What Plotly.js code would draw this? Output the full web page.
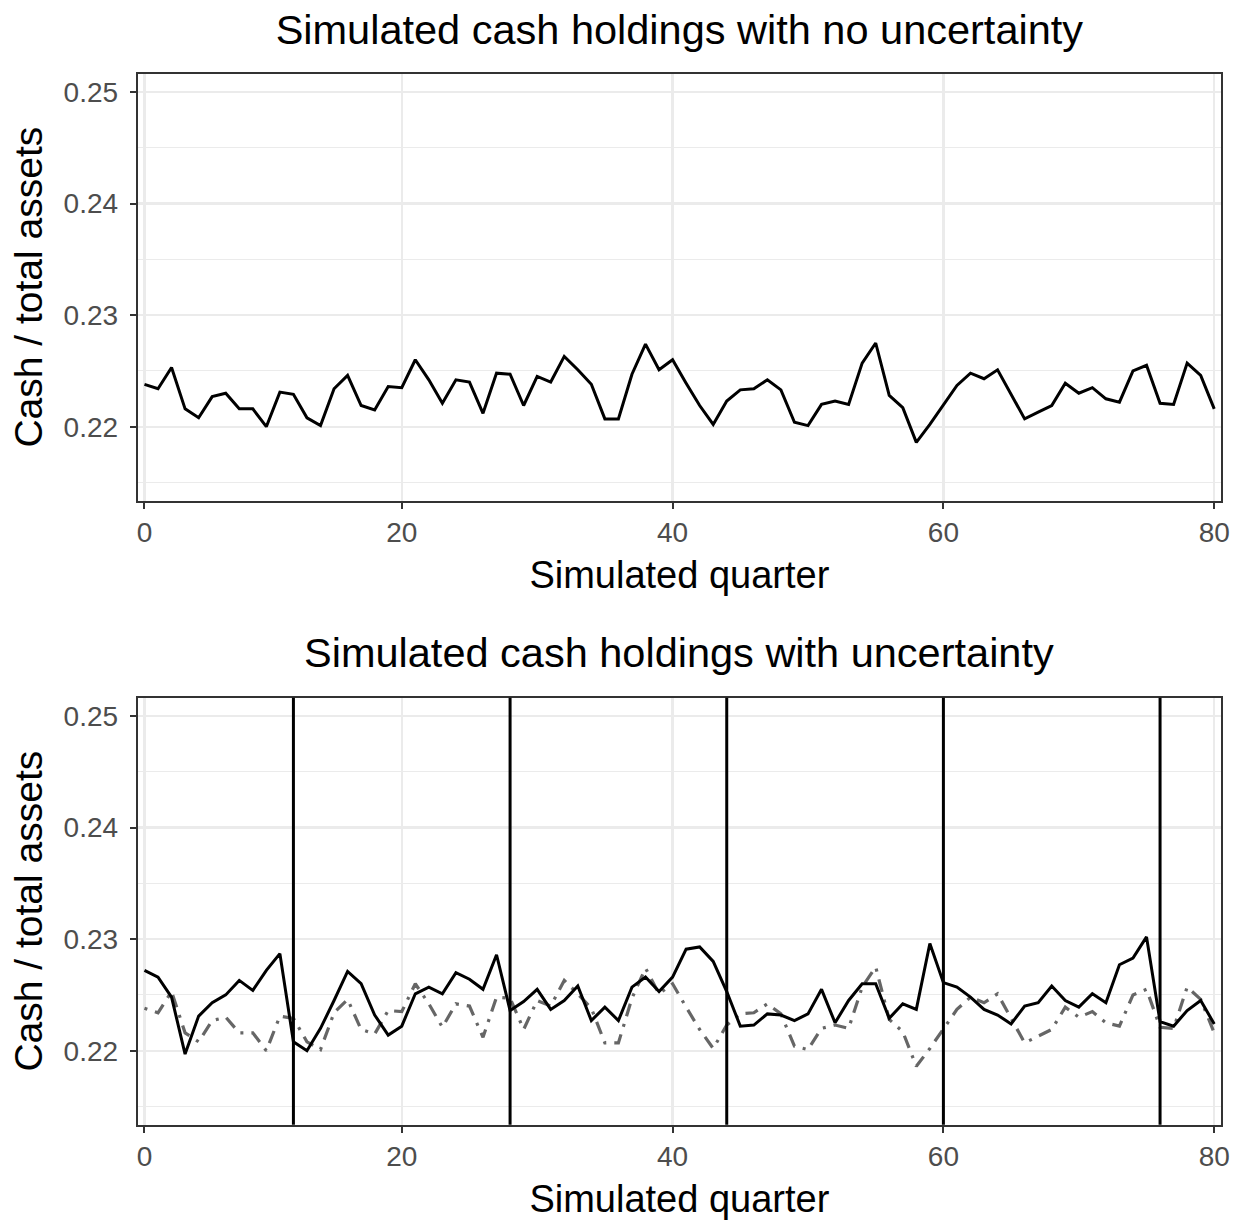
<!DOCTYPE html>
<html>
<head>
<meta charset="utf-8">
<script src="https://cdn.plot.ly/plotly-3.0.1.min.js"></script>
<style>
  html, body { margin: 0; padding: 0; background: #ffffff; }
  #chart { width: 1241px; height: 1222px; }
</style>
</head>
<body>
<div id="chart"></div>
<script>
// ---- data ----
var quarters = [1,2,3,4,5,6,7,8,9,10,11,12,13,14,15,16,17,18,19,20,
  21,22,23,24,25,26,27,28,29,30,31,32,33,34,35,36,37,38,39,40,
  41,42,43,44,45,46,47,48,49,50,51,52,53,54,55,56,57,58,59,60,
  61,62,63,64,65,66,67,68,69,70,71,72,73,74,75,76,77,78,79,80];

// cash / total assets, simulation without uncertainty
var cashNoUncertainty = [
  0.2238,0.2234,0.2253,0.2216,0.2208,0.2227,0.2230,0.2216,0.2216,0.2200,
  0.2231,0.2229,0.2208,0.2201,0.2234,0.2246,0.2219,0.2215,0.2236,0.2235,
  0.2260,0.2242,0.2221,0.2242,0.2240,0.2212,0.2248,0.2247,0.2219,0.2245,
  0.2240,0.2263,0.2251,0.2238,0.2207,0.2207,0.2247,0.2274,0.2251,0.2260,
  0.2239,0.2219,0.2202,0.2223,0.2233,0.2234,0.2242,0.2233,0.2204,0.2201,
  0.2220,0.2223,0.2220,0.2257,0.2275,0.2228,0.2217,0.2186,0.2202,0.2219,
  0.2237,0.2248,0.2243,0.2251,0.2229,0.2207,0.2213,0.2219,0.2239,0.2230,
  0.2235,0.2225,0.2222,0.2250,0.2255,0.2221,0.2220,0.2257,0.2246,0.2216];

// cash / total assets, simulation with uncertainty
var cashUncertainty = [
  0.2272,0.2266,0.2248,0.2197,0.2231,0.2243,0.2250,0.2263,0.2254,0.2272,
  0.2287,0.2208,0.2200,0.2220,0.2245,0.2271,0.2260,0.2232,0.2214,0.2222,
  0.2251,0.2257,0.2251,0.2270,0.2264,0.2255,0.2286,0.2236,0.2244,0.2255,
  0.2237,0.2245,0.2258,0.2227,0.2239,0.2227,0.2257,0.2266,0.2253,0.2266,
  0.2291,0.2293,0.2280,0.2253,0.2222,0.2223,0.2233,0.2232,0.2227,0.2233,
  0.2255,0.2225,0.2245,0.2260,0.2260,0.2229,0.2242,0.2237,0.2296,0.2261,
  0.2257,0.2248,0.2237,0.2232,0.2224,0.2240,0.2243,0.2258,0.2245,0.2239,
  0.2251,0.2243,0.2277,0.2283,0.2302,0.2226,0.2222,0.2236,0.2245,0.2224];

// quarters at which uncertainty shocks occur
var shockQuarters = [12, 28, 44, 60, 76];

var xTickVals = [1, 20, 40, 60, 80];
var xTickText = ['0', '20', '40', '60', '80'];
var yTickVals = [0.22, 0.23, 0.24, 0.25];
var yTickText = ['0.22', '0.23', '0.24', '0.25'];
var yMinorVals = [0.215, 0.225, 0.235, 0.245];

var titleTop = 'Simulated cash holdings with no uncertainty';
var titleBottom = 'Simulated cash holdings with uncertainty';
var xTitle = 'Simulated quarter';
var yTitle = 'Cash / total assets';

// ---- styling ----
var FONT = 'Liberation Sans, Arial, Helvetica, sans-serif';
var W = 1241, H = 1222;
var xDom = [137.7 / W, 1221 / W];
var yDomTop = [1 - 500.7 / H, 1 - 73.7 / H];
var yDomBot = [1 - 1124.7 / H, 1 - 697.7 / H];

function xAxis(anchor) {
  return {
    domain: xDom, anchor: anchor, range: [0.5, 80.5],
    tickmode: 'array', tickvals: xTickVals, ticktext: xTickText,
    ticks: 'outside', ticklen: 6, tickwidth: 2, tickcolor: '#333333',
    tickfont: {family: FONT, size: 28, color: '#4d4d4d'},
    showgrid: true, gridcolor: '#ebebeb', gridwidth: 2.2,
    zeroline: false, showline: true, mirror: true,
    linecolor: '#333333', linewidth: 2,
    title: {text: xTitle, font: {family: FONT, size: 38, color: '#000000'}, standoff: 14}
  };
}
function yAxis(anchor, dom) {
  return {
    domain: dom, anchor: anchor, range: [0.21337, 0.25163],
    tickmode: 'array', tickvals: yTickVals, ticktext: yTickText,
    ticks: 'outside', ticklen: 6, tickwidth: 2, tickcolor: '#333333',
    ticklabelstandoff: 6,
    tickfont: {family: FONT, size: 28, color: '#4d4d4d'},
    showgrid: true, gridcolor: '#ebebeb', gridwidth: 2.2,
    minor: {tickmode: 'array', tickvals: yMinorVals, showgrid: true,
            gridcolor: '#ebebeb', gridwidth: 1.1, ticks: ''},
    zeroline: false, showline: true, mirror: true,
    linecolor: '#333333', linewidth: 2,
    title: {text: yTitle, font: {family: FONT, size: 39, color: '#000000'}, standoff: 9}
  };
}

var traces = [
  {x: quarters, y: cashNoUncertainty, xaxis: 'x', yaxis: 'y', type: 'scatter', mode: 'lines',
   line: {color: '#000000', width: 3}, hoverinfo: 'skip'},
  {x: quarters, y: cashNoUncertainty, xaxis: 'x2', yaxis: 'y2', type: 'scatter', mode: 'lines',
   line: {color: '#666666', width: 3.2, dash: '3px,8px,13px,8px'}, hoverinfo: 'skip'},
  {x: quarters, y: cashUncertainty, xaxis: 'x2', yaxis: 'y2', type: 'scatter', mode: 'lines',
   line: {color: '#000000', width: 3}, hoverinfo: 'skip'}
];

var shapes = shockQuarters.map(function (q) {
  return {type: 'line', xref: 'x2', yref: 'y2 domain', x0: q, x1: q, y0: 0, y1: 1,
          line: {color: '#000000', width: 3}, layer: 'above'};
});

var layout = {
  width: W, height: H,
  margin: {l: 0, r: 0, t: 0, b: 0},
  paper_bgcolor: '#ffffff', plot_bgcolor: '#ffffff',
  showlegend: false,
  font: {family: FONT},
  title: {text: titleTop, font: {family: FONT, size: 41.5, color: '#000000'},
          x: (xDom[0] + xDom[1]) / 2, xanchor: 'center', xref: 'paper',
          y: 1 - 29 / H, yanchor: 'middle', yref: 'paper'},
  xaxis: xAxis('y'),
  yaxis: yAxis('x', yDomTop),
  xaxis2: xAxis('y2'),
  yaxis2: yAxis('x2', yDomBot),
  shapes: shapes,
  annotations: [
    {text: titleBottom, xref: 'paper', yref: 'paper',
     x: (xDom[0] + xDom[1]) / 2, y: 1 - 652 / H, xanchor: 'center', yanchor: 'middle',
     showarrow: false, font: {family: FONT, size: 41.5, color: '#000000'}}
  ]
};

Plotly.newPlot('chart', traces, layout, {staticPlot: true, displayModeBar: false});
</script>
</body>
</html>
